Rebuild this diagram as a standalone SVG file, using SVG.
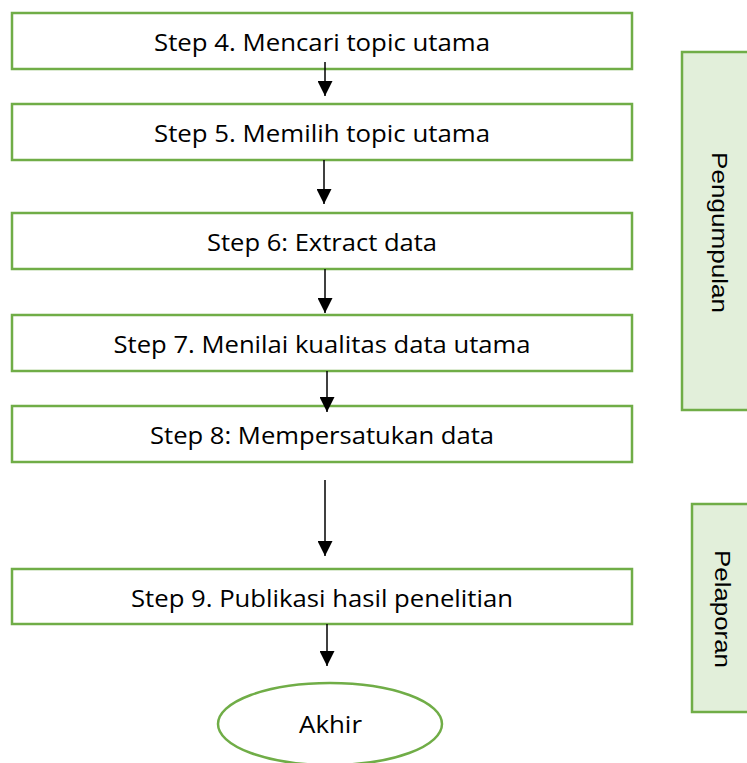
<svg xmlns="http://www.w3.org/2000/svg" width="747" height="763" viewBox="0 0 747 763">
  <style>
    .step { fill: #FFFFFF; stroke: #70AD47; stroke-width: 2.5; }
    .phase { fill: #E2EFDA; stroke: #70AD47; stroke-width: 2.5; }
    .label { font-family: "Open Sans", "Noto Sans", sans-serif; font-size: 24px; fill: #000000; text-anchor: middle; }
    .side { font-family: "Liberation Sans", Arial, sans-serif; font-size: 22px; fill: #000000; text-anchor: middle; }
    .link { stroke: #000000; stroke-width: 1.5; fill: none; marker-end: url(#head); }
  </style>
  <defs>
    <marker id="head" markerUnits="userSpaceOnUse" markerWidth="15" markerHeight="15" refX="15" refY="7.5" orient="auto">
      <path d="M0,0 L15,7.5 L0,15 Z" fill="#000000"/>
    </marker>
  </defs>
  <rect width="747" height="763" fill="#FFFFFF"/>

  <g id="node-step4">
    <rect class="step" x="12" y="13" width="620" height="56"/>
    <text class="label" x="322" y="51" textLength="336" lengthAdjust="spacingAndGlyphs">Step 4. Mencari topic utama</text>
  </g>
  <g id="node-step5">
    <rect class="step" x="12" y="104" width="620" height="56"/>
    <text class="label" x="322" y="142" textLength="336" lengthAdjust="spacingAndGlyphs">Step 5. Memilih topic utama</text>
  </g>
  <g id="node-step6">
    <rect class="step" x="12" y="213" width="620" height="56"/>
    <text class="label" x="322" y="251" textLength="230" lengthAdjust="spacingAndGlyphs">Step 6: Extract data</text>
  </g>
  <g id="node-step7">
    <rect class="step" x="12" y="315" width="620" height="56"/>
    <text class="label" x="322" y="353" textLength="417" lengthAdjust="spacingAndGlyphs">Step 7. Menilai kualitas data utama</text>
  </g>
  <g id="node-step8">
    <rect class="step" x="12" y="406" width="620" height="56"/>
    <text class="label" x="322" y="444" textLength="344" lengthAdjust="spacingAndGlyphs">Step 8: Mempersatukan data</text>
  </g>
  <g id="node-step9">
    <rect class="step" x="12" y="569" width="620" height="55"/>
    <text class="label" x="322" y="607" textLength="382" lengthAdjust="spacingAndGlyphs">Step 9. Publikasi hasil penelitian</text>
  </g>
  <g id="node-akhir">
    <ellipse class="step" cx="330" cy="724" rx="112" ry="41"/>
    <text class="label" x="330.5" y="733" textLength="63" lengthAdjust="spacingAndGlyphs">Akhir</text>
  </g>

  <g id="phase-pengumpulan">
    <rect class="phase" x="682" y="52" width="80" height="358"/>
    <text class="side" transform="translate(712,232.5) rotate(90)" textLength="161" lengthAdjust="spacingAndGlyphs">Pengumpulan</text>
  </g>
  <g id="phase-pelaporan">
    <rect class="phase" x="692" y="504" width="80" height="208"/>
    <text class="side" transform="translate(715,609) rotate(90)" textLength="118" lengthAdjust="spacingAndGlyphs">Pelaporan</text>
  </g>

  <g id="connectors">
    <line class="link" x1="325" y1="62" x2="325" y2="96"/>
    <line class="link" x1="324" y1="160" x2="324" y2="204"/>
    <line class="link" x1="325" y1="269" x2="325" y2="313"/>
    <line class="link" x1="327" y1="371" x2="327" y2="412"/>
    <line class="link" x1="325" y1="480" x2="325" y2="556"/>
    <line class="link" x1="327" y1="624" x2="327" y2="666"/>
  </g>
</svg>
